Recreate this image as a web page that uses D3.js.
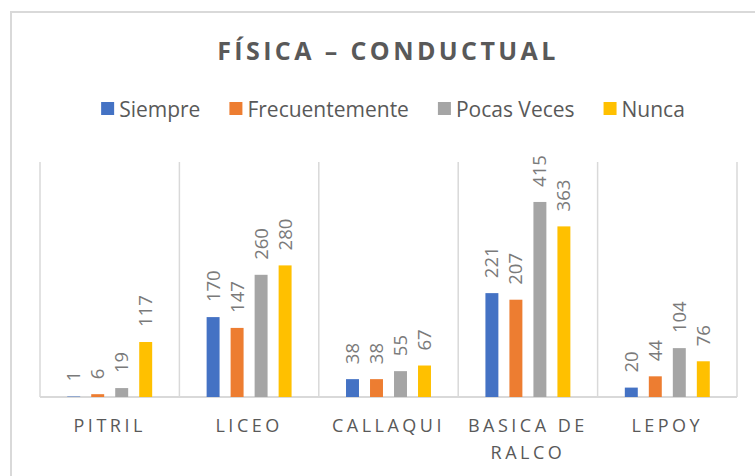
<!DOCTYPE html>
<html>
<head>
<meta charset="utf-8">
<script src="https://cdn.jsdelivr.net/npm/d3@7"></script>
<style>
  body { margin: 0; background: #fff; }
  text { font-family: "Open Sans", sans-serif; }
</style>
</head>
<body>
<div id="chart"></div>
<script>
let categories = ["PITRIL", "LICEO", "CALLAQUI", "BASICA DE RALCO", "LEPOY"];
let seriesNames = ["Siempre", "Frecuentemente", "Pocas Veces", "Nunca"];
let siempre = [1, 170, 38, 221, 20];
let frecuentemente = [6, 147, 38, 207, 44];
let pocasVeces = [19, 260, 55, 415, 104];
let nunca = [117, 280, 67, 363, 76];
let colors = ["#4472c4", "#ed7d31", "#a5a5a5", "#ffc000"];

let seriesValues = [siempre, frecuentemente, pocasVeces, nunca];
let rows = categories.map(function(c, i) {
    return { cat: c, values: seriesValues.map(function(s) { return s[i]; }) };
});

let W = 755, H = 476;
let svg = d3.select("#chart").append("svg")
    .attr("width", W)
    .attr("height", H);

svg.append("rect").attr("width", W).attr("height", H).attr("fill", "#fff");

// chart border (only top and left show inside the crop)
svg.append("rect")
    .attr("x", 11).attr("y", 12)
    .attr("width", 800).attr("height", 500)
    .attr("fill", "none")
    .attr("stroke", "#d9d9d9")
    .attr("stroke-width", 2);

// title
svg.append("text")
    .attr("x", 388).attr("y", 60)
    .attr("text-anchor", "middle")
    .attr("fill", "#595959")
    .style("font-size", "25px")
    .style("font-weight", "bold")
    .style("letter-spacing", "3.4px")
    .text("FÍSICA – CONDUCTUAL");

// legend
let legend = svg.append("g");
let lx = 0;
seriesNames.forEach(function(name, i) {
    let g = legend.append("g").attr("transform", "translate(" + lx + ",0)");
    g.append("rect")
        .attr("x", 0).attr("y", 102)
        .attr("width", 13).attr("height", 13)
        .attr("fill", colors[i]);
    let t = g.append("text")
        .attr("x", 18).attr("y", 116.5)
        .attr("fill", "#595959")
        .style("font-size", "21px")
        .text(name);
    lx += 18 + t.node().getComputedTextLength() + 29;
});
lx -= 29;
legend.attr("transform", "translate(" + (393 - lx / 2) + ",0)");

// scales
let x0 = d3.scaleBand()
    .domain(categories)
    .range([40, 737]);

let x1 = d3.scaleBand()
    .domain(d3.range(seriesNames.length))
    .range([x0.bandwidth() / 2 - 48, x0.bandwidth() / 2 + 48])
    .paddingInner(0.46)
    .paddingOuter(0.23);

let y = d3.scaleLinear()
    .domain([0, 500])
    .range([397, 162]);

// vertical separators between categories
let bounds = categories.map(function(c) { return x0(c); }).concat([x0.range()[1]]);
svg.selectAll(".sep")
    .data(bounds)
    .enter().append("line")
    .attr("x1", function(d) { return d; })
    .attr("x2", function(d) { return d; })
    .attr("y1", y(500))
    .attr("y2", y(0))
    .style("stroke", "#d9d9d9")
    .style("stroke-width", 1.5);

// baseline
svg.append("line")
    .attr("x1", x0.range()[0]).attr("x2", x0.range()[1])
    .attr("y1", y(0)).attr("y2", y(0))
    .style("stroke", "#d9d9d9")
    .style("stroke-width", 2);

// bars
let groups = svg.selectAll(".grp")
    .data(rows)
    .enter().append("g")
    .attr("transform", function(d) { return "translate(" + x0(d.cat) + ",0)"; });

groups.selectAll("rect")
    .data(function(d) { return d.values; })
    .enter().append("rect")
    .attr("x", function(d, i) { return x1(i); })
    .attr("y", function(d) { return y(d); })
    .attr("width", x1.bandwidth())
    .attr("height", function(d) { return y(0) - y(d); })
    .attr("fill", function(d, i) { return colors[i]; });

// value labels, rotated
groups.selectAll(".lbl")
    .data(function(d) { return d.values; })
    .enter().append("text")
    .attr("transform", function(d, i) {
        return "translate(" + (x1(i) + x1.bandwidth() / 2) + "," + (y(d) - 15) + ") rotate(-90)";
    })
    .attr("dy", "0.35em")
    .attr("fill", "#7a7a7a")
    .style("font-size", "18.5px")
    .text(function(d) { return d; });

// category labels with wrap
let axisG = svg.append("g");
rows.forEach(function(r) {
    let cx = x0(r.cat) + x0.bandwidth() / 2;
    let t = axisG.append("text")
        .attr("x", cx)
        .attr("y", 432)
        .attr("text-anchor", "middle")
        .attr("fill", "#595959")
        .style("font-size", "18px")
        .style("letter-spacing", "3.5px");
    let words = r.cat.split(" ");
    let line = [];
    let lineNo = 0;
    let ts = t.append("tspan").attr("x", cx).attr("y", 432);
    words.forEach(function(w) {
        line.push(w);
        ts.text(line.join(" "));
        if (ts.node().getComputedTextLength() > x0.bandwidth() && line.length > 1) {
            line.pop();
            ts.text(line.join(" "));
            line = [w];
            lineNo++;
            ts = t.append("tspan").attr("x", cx).attr("y", 432 + lineNo * 27).text(w);
        }
    });
});
</script>
</body>
</html>
